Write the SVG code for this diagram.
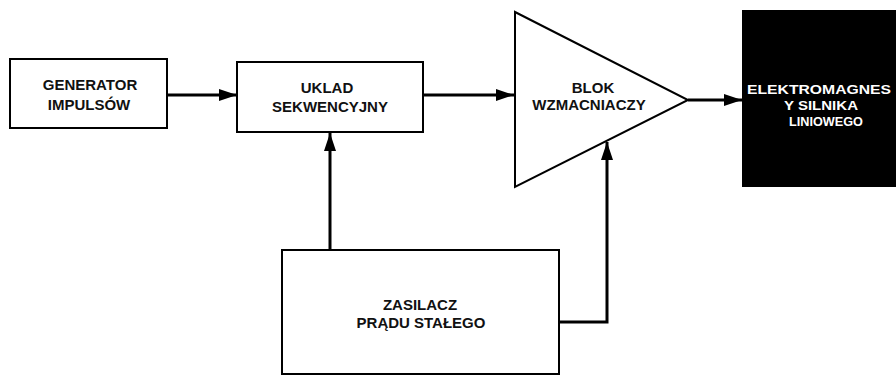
<svg xmlns="http://www.w3.org/2000/svg" width="896" height="376" viewBox="0 0 896 376">
<defs>
<marker id="ah" markerUnits="userSpaceOnUse" markerWidth="18" markerHeight="12" refX="18" refY="6" orient="auto">
<path d="M0,0 L18,6 L0,12 z" fill="#000"/>
</marker>
<style>
.box{fill:#fff;stroke:#000;stroke-width:2}
.lbl{font-family:"Liberation Sans",Arial,sans-serif;font-weight:bold;font-size:15px;text-anchor:middle;fill:#111}
.wl{fill:#fff;font-size:13px}
.con{fill:none;stroke:#000;stroke-width:3;marker-end:url(#ah)}
</style>
</defs>
<rect width="896" height="376" fill="#fff"/>
<g id="generator">
<rect class="box" x="10" y="59" width="157" height="69"/>
<text class="lbl" x="90" y="90">GENERATOR</text>
<text class="lbl" x="89" y="110">IMPULSÓW</text>
</g>
<g id="uklad">
<rect class="box" x="237" y="62" width="186" height="70"/>
<text class="lbl" x="327" y="93">UKLAD</text>
<text class="lbl" x="330" y="112">SEKWENCYJNY</text>
</g>
<g id="wzmacniacz">
<polygon class="box" points="515,12 515,187 688,100"/>
<text class="lbl" x="593" y="93">BLOK</text>
<text class="lbl" x="589" y="110">WZMACNIACZY</text>
</g>
<g id="elektromagnes">
<rect x="742" y="10" width="154" height="177" fill="#000"/>
<text class="lbl wl" x="819" y="94" textLength="144" lengthAdjust="spacingAndGlyphs">ELEKTROMAGNES</text>
<text class="lbl wl" x="821" y="110" textLength="74" lengthAdjust="spacingAndGlyphs">Y SILNIKA</text>
<text class="lbl wl" x="826" y="126" textLength="74" lengthAdjust="spacingAndGlyphs">LINIOWEGO</text>
</g>
<g id="zasilacz">
<rect class="box" x="282" y="250" width="277" height="124"/>
<text class="lbl" x="420" y="310">ZASILACZ</text>
<text class="lbl" x="421" y="328">PRĄDU STAŁEGO</text>
</g>
<g id="connectors">
<path class="con" d="M167,95 H237"/>
<path class="con" d="M423,95 H514"/>
<path class="con" d="M688,100 H742"/>
<path class="con" d="M330,250 V133"/>
<path class="con" d="M559,322 H607 V142"/>
</g>
</svg>
